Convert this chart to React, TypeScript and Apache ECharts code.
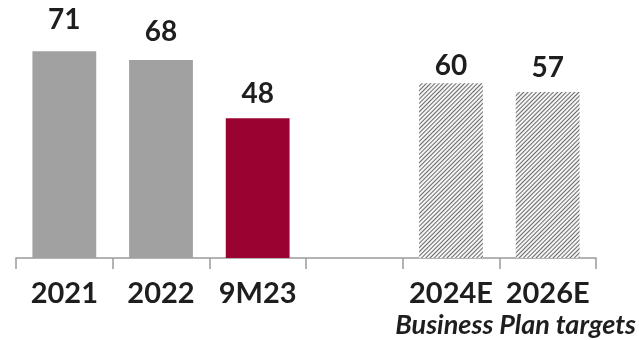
import React, { useEffect, useRef } from "react";
import * as echarts from "echarts";

const categories = ["2021", "2022", "9M23", "", "2024E", "2026E"];
const values: (number | null)[] = [71, 68, 48, null, 60, 57];
const kinds = ["actual", "actual", "current", "none", "target", "target"];
const footnote = "Business Plan targets";

const labelGap = [19, 16, 12, 0, 5, 12];

export default function App() {
  const ref = useRef<HTMLDivElement>(null);
  useEffect(() => {
    if (!ref.current) return;
    const chart = echarts.init(ref.current, undefined, { renderer: "svg" });
    const font = "Lato";
    const data = values.map((v, i) => {
      if (v === null) return "-";
      const k = kinds[i];
      const itemStyle: any =
        k === "actual"
          ? { color: "#a1a1a1" }
          : k === "current"
          ? { color: "#9a0331" }
          : {
              color: "#f5f5f5",
              decal: {
                symbol: "rect",
                symbolSize: 1,
                dashArrayX: [1, 0],
                dashArrayY: [1, 1.8],
                rotation: -Math.PI / 4,
                color: "#6a6a6a",
              },
            };
      return { value: v, itemStyle, label: { distance: labelGap[i] } };
    });
    chart.setOption({
      animation: false,
      grid: { left: 16, right: 43, top: 12, bottom: 82, containLabel: false },
      xAxis: {
        type: "category",
        data: categories,
        axisLine: { show: true, lineStyle: { color: "#9a9a9a", width: 1.5 } },
        axisTick: { show: true, length: 11, lineStyle: { color: "#9a9a9a", width: 1.5 } },
        axisLabel: {
          interval: 0,
          margin: 19,
          color: "#1e1e1e",
          fontFamily: font,
          fontWeight: "bold",
          fontSize: 29,
        },
      },
      yAxis: {
        type: "value",
        min: 0,
        max: 84.5,
        show: false,
        splitLine: { show: false },
      },
      series: [
        {
          type: "bar",
          data,
          barWidth: "66%",
          label: {
            show: true,
            position: "top",
            color: "#1e1e1e",
            fontFamily: font,
            fontWeight: "bold",
            fontSize: 28,
          },
        },
      ],
      graphic: [
        {
          type: "text",
          x: 636,
          y: 310,
          style: {
            text: footnote,
            fill: "#1e1e1e",
            align: "right",
            textAlign: "right",
            verticalAlign: "top",
            fontFamily: font,
            fontStyle: "italic",
            fontWeight: "bold",
            fontSize: 27,
          },
        },
      ],
    });
    return () => chart.dispose();
  }, []);
  return (
    <div
      ref={ref}
      style={{ position: "fixed", left: 0, top: 0, width: 639, height: 340 }}
    />
  );
}
